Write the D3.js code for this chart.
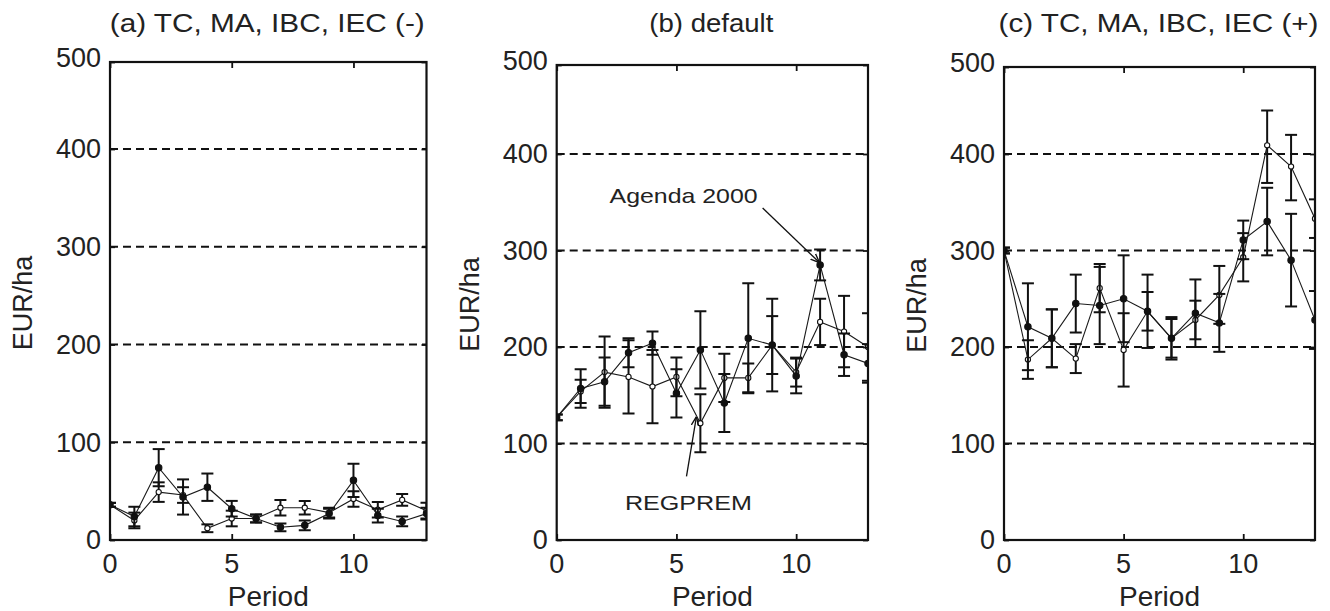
<!DOCTYPE html>
<html>
<head>
<meta charset="utf-8">
<script src="https://cdn.jsdelivr.net/npm/d3@7"></script>
<style>
body { margin: 0; background: #fff; }
text { font-family: "Liberation Sans", Arial, sans-serif; fill: #222; }
</style>
</head>
<body>
<div id="chart"></div>
<script>
// periods on the x axis
var periods = [0, 1, 2, 3, 4, 5, 6, 7, 8, 9, 10, 11, 12, 13];
var xTicks = [0, 5, 10];
var yTicks = [0, 100, 200, 300, 400, 500];
var gridValues = [100, 200, 300, 400];
var titles = ["(a) TC, MA, IBC, IEC (-)", "(b) default", "(c) TC, MA, IBC, IEC (+)"];

// panel (a): dot series and circle series, with +/- error
var aDot     = [36, 24, 74, 44, 54, 32, 22, 13, 15, 27, 61, 25, 19, 27];
var aDotErr  = [2, 10, 19, 18, 14, 8, 4, 4, 5, 5, 17, 7, 5, 6];
var aCirc    = [36, 20, 49, 46, 12, 22, 22, 33, 33, 28, 42, 31, 41, 30];
var aCircErr = [2, 8, 10, 8, 4, 8, 4, 8, 7, 5, 8, 8, 6, 8];

// panel (b)
var bDot     = [127, 157, 164, 194, 204, 152, 197, 142, 209, 202, 170, 285, 192, 183];
var bDotErr  = [3, 20, 25, 15, 12, 25, 40, 30, 57, 48, 18, 16, 22, 20];
var bCirc    = [127, 154, 174, 169, 159, 169, 121, 168, 168, 202, 174, 226, 216, 200];
var bCircErr = [3, 12, 37, 38, 38, 20, 30, 25, 15, 30, 15, 24, 37, 35];

// panel (c)
var cDot     = [300, 221, 209, 245, 243, 250, 237, 209, 235, 225, 311, 330, 290, 228];
var cDotErr  = [3, 45, 30, 30, 40, 45, 38, 22, 35, 30, 20, 35, 48, 30];
var cCirc    = [300, 187, 209, 188, 261, 197, 237, 209, 228, 254, 293, 410, 387, 333];
var cCircErr = [3, 20, 30, 15, 25, 38, 20, 20, 20, 30, 25, 40, 35, 20];

// annotations in panel (b): text anchor and arrow line, in data units
var labelNames = ["Agenda 2000", "REGPREM"];
var labelPos = [[5.3, 357], [5.5, 39]];
var arrowFrom = [[8.6, 344], [5.42, 66]];
var arrowTo = [[10.95, 288], [5.83, 127]];

var panels = [
  {title: titles[0], titleW: 315, xr: [110, 426.5], yr: [540, 149, 62], dot: aDot, dotErr: aDotErr, circ: aCirc, circErr: aCircErr},
  {title: titles[1], titleW: 124, xr: [556.7, 868], yr: [540, 154, 65], dot: bDot, dotErr: bDotErr, circ: bCirc, circErr: bCircErr, notes: true},
  {title: titles[2], titleW: 320, xr: [1004, 1315], yr: [540, 154, 67], dot: cDot, dotErr: cDotErr, circ: cCirc, circErr: cCircErr}
];
var noteW = [148, 127];

var svg = d3.select("#chart").append("svg")
    .attr("width", 1330)
    .attr("height", 611);

var defs = svg.append("defs");
defs.append("marker")
    .attr("id", "arrow")
    .attr("viewBox", "0 0 10 10")
    .attr("refX", 9).attr("refY", 5)
    .attr("markerWidth", 7).attr("markerHeight", 7)
    .attr("orient", "auto")
  .append("path")
    .attr("d", "M0,1 L10,5 L0,9")
    .attr("fill", "none")
    .attr("stroke", "#111")
    .attr("stroke-width", 1.5);

function drawSeries(g, x, y, means, errs, isDot) {
  var line = d3.line()
      .x(function(d, i) { return x(periods[i]); })
      .y(function(d) { return y(d); });

  g.append("path")
    .datum(means)
    .attr("d", line)
    .attr("fill", "none")
    .attr("stroke", "#1a1a1a")
    .attr("stroke-width", 1.1);

  var bars = g.selectAll(null)
    .data(means)
    .enter().append("g");

  bars.append("line")
    .attr("x1", function(d, i) { return x(periods[i]); })
    .attr("x2", function(d, i) { return x(periods[i]); })
    .attr("y1", function(d, i) { return y(d - errs[i]); })
    .attr("y2", function(d, i) { return y(d + errs[i]); })
    .attr("stroke", "#111").attr("stroke-width", 2);

  [-1, 1].forEach(function(s) {
    bars.append("line")
      .attr("x1", function(d, i) { return x(periods[i]) - 6; })
      .attr("x2", function(d, i) { return x(periods[i]) + 6; })
      .attr("y1", function(d, i) { return y(d + s * errs[i]); })
      .attr("y2", function(d, i) { return y(d + s * errs[i]); })
      .attr("stroke", "#111").attr("stroke-width", 2);
  });

  bars.append("circle")
    .attr("cx", function(d, i) { return x(periods[i]); })
    .attr("cy", function(d) { return y(d); })
    .attr("r", isDot ? 3.2 : 2.6)
    .attr("fill", isDot ? "#111" : "#fff")
    .attr("stroke", "#111")
    .attr("stroke-width", 1.1);
}

function drawPanel(p, idx) {
  var x = d3.scaleLinear().domain([0, 13]).range(p.xr);
  var y = d3.scaleLinear().domain([0, 400, 500]).range(p.yr);
  var left = p.xr[0], right = p.xr[1], top = p.yr[2], bottom = p.yr[0];

  var g = svg.append("g");

  defs.append("clipPath").attr("id", "clip" + idx)
    .append("rect")
    .attr("x", left).attr("y", top)
    .attr("width", right - left).attr("height", bottom - top);

  // dashed grid
  g.selectAll(".grid")
    .data(gridValues)
    .enter().append("line")
    .attr("x1", left).attr("x2", right)
    .attr("y1", function(d) { return y(d); })
    .attr("y2", function(d) { return y(d); })
    .attr("stroke", "#111")
    .attr("stroke-width", 1.8)
    .attr("stroke-dasharray", "8,5");

  var data = g.append("g").attr("clip-path", "url(#clip" + idx + ")");
  drawSeries(data, x, y, p.circ, p.circErr, false);
  drawSeries(data, x, y, p.dot, p.dotErr, true);

  // axes with inward ticks, matlab style
  var axL = d3.axisRight(y).tickValues(yTicks).tickSize(5).tickFormat("");
  var axR = d3.axisLeft(y).tickValues(yTicks).tickSize(5).tickFormat("");
  var axB = d3.axisTop(x).tickValues(xTicks).tickSize(6).tickFormat("");
  var axT = d3.axisBottom(x).tickValues(xTicks).tickSize(6).tickFormat("");
  g.append("g").attr("transform", "translate(" + left + ",0)").call(axL);
  g.append("g").attr("transform", "translate(" + right + ",0)").call(axR);
  g.append("g").attr("transform", "translate(0," + bottom + ")").call(axB);
  g.append("g").attr("transform", "translate(0," + top + ")").call(axT);
  g.selectAll(".domain").remove();
  g.selectAll(".tick line").attr("stroke", "#111").attr("stroke-width", 1.8);

  g.append("rect")
    .attr("x", left).attr("y", top)
    .attr("width", right - left).attr("height", bottom - top)
    .attr("fill", "none")
    .attr("stroke", "#111")
    .attr("stroke-width", 2.2);

  // tick labels
  g.selectAll(".ylab")
    .data(yTicks)
    .enter().append("text")
    .attr("x", left - 9)
    .attr("y", function(d) { return d === 500 ? y(d) - 4 : y(d); })
    .attr("dy", "0.35em")
    .attr("text-anchor", "end")
    .style("font-size", "27px")
    .text(function(d) { return d; });

  g.selectAll(".xlab")
    .data(xTicks)
    .enter().append("text")
    .attr("x", function(d) { return x(d); })
    .attr("y", bottom + 33)
    .attr("text-anchor", "middle")
    .style("font-size", "27px")
    .text(function(d) { return d; });

  g.append("text")
    .attr("x", (left + right) / 2)
    .attr("y", 606)
    .attr("text-anchor", "middle")
    .style("font-size", "28px")
    .text("Period");

  g.append("text")
    .attr("transform", "translate(" + (left - 78) + "," + ((top + bottom) / 2 + 2) + ") rotate(-90)")
    .attr("text-anchor", "middle")
    .style("font-size", "27px")
    .text("EUR/ha");

  g.append("text")
    .attr("x", (left + right) / 2 - 1)
    .attr("y", 32)
    .attr("text-anchor", "middle")
    .attr("textLength", p.titleW)
    .attr("lengthAdjust", "spacingAndGlyphs")
    .style("font-size", "25px")
    .text(p.title);

  if (p.notes) {
    labelNames.forEach(function(name, i) {
      g.append("line")
        .attr("x1", x(arrowFrom[i][0])).attr("y1", y(arrowFrom[i][1]))
        .attr("x2", x(arrowTo[i][0])).attr("y2", y(arrowTo[i][1]))
        .attr("stroke", "#111")
        .attr("stroke-width", 1.3)
        .attr("marker-end", "url(#arrow)");
      g.append("text")
        .attr("x", x(labelPos[i][0]))
        .attr("y", y(labelPos[i][1]))
        .attr("dy", "0.35em")
        .attr("text-anchor", "middle")
        .attr("textLength", noteW[i])
        .attr("lengthAdjust", "spacingAndGlyphs")
        .style("font-size", "21px")
        .text(name);
    });
  }
}

panels.forEach(drawPanel);
</script>
</body>
</html>
